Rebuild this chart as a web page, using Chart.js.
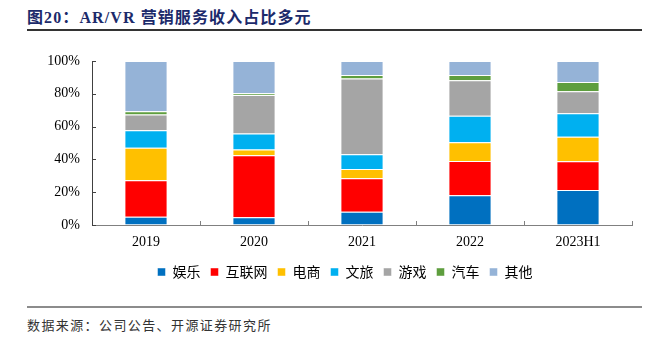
<!DOCTYPE html>
<html>
<head>
<meta charset="utf-8">
<script src="https://cdn.jsdelivr.net/npm/chart.js@4.4.1/dist/chart.umd.min.js"></script>
<style>
  html, body { margin: 0; padding: 0; background: #fff; }
  body { width: 646px; height: 337px; position: relative; overflow: hidden; }
  #title { position: absolute; left: 27px; top: 10px; font: bold 16px "Liberation Serif", "Noto Sans CJK SC"; line-height: 16px; color: #1B2A6B; letter-spacing: 1.1px; white-space: nowrap; }
  #rule1 { position: absolute; left: 27px; top: 29px; width: 615px; height: 0; border-top: 2px solid #333; }
  #wrap { position: absolute; left: 0; top: 0; width: 646px; height: 300px; }
  #rule2 { position: absolute; left: 27px; top: 306px; width: 615px; height: 0; border-top: 2px solid #8c8c8c; }
  #source { position: absolute; left: 27px; top: 318px; font: 13px "Noto Sans CJK SC"; line-height: 13px; color: #333; letter-spacing: 1.4px; white-space: nowrap; }
</style>
</head>
<body>
<div id="title">图20：AR/VR 营销服务收入占比多元</div>
<div id="rule1"></div>
<div id="wrap"><canvas id="c"></canvas></div>
<div id="rule2"></div>
<div id="source">数据来源：公司公告、开源证券研究所</div>
<script>
const categories = ['2019', '2020', '2021', '2022', '2023H1'];
const seriesNames = ['娱乐', '互联网', '电商', '文旅', '游戏', '汽车', '其他'];
const entertainment = [5.1, 4.7, 8.1, 18.1, 21.4];
const internet = [22.2, 37.8, 20.4, 21.0, 17.5];
const ecommerce = [19.8, 3.5, 5.7, 11.4, 14.9];
const tourism = [10.7, 9.8, 9.0, 16.1, 14.4];
const games = [9.6, 23.4, 46.2, 21.6, 13.3];
const auto = [1.9, 1.1, 2.0, 3.2, 5.7];
const others = [30.7, 19.7, 8.6, 8.6, 12.8];
const yTicks = [0, 20, 40, 60, 80, 100];

const seriesValues = [entertainment, internet, ecommerce, tourism, games, auto, others];
const colors = ['#0070C0', '#FF0000', '#FFC000', '#00B0F0', '#A5A5A5', '#5E9E3E', '#95B3D7'];

const datasets = seriesNames.map((name, i) => ({
  label: name,
  data: seriesValues[i],
  backgroundColor: colors[i],
  borderColor: 'rgba(255,255,255,0.45)',
  borderWidth: 1,
  barPercentage: 0.4,
  categoryPercentage: 1.0
}));

const innerTicks = {
  id: 'innerTicks',
  afterLayout(chart) {
    const lg = chart.legend;
    if (lg) {
      const shift = 345 - (lg.left + lg.right) / 2;
      lg.left += shift; lg.right += shift;
    }
  },
  afterDraw(chart) {
    const ctx = chart.ctx;
    const xs = chart.scales.x, ys = chart.scales.y;
    ctx.save();
    ctx.lineWidth = 1;
    ctx.strokeStyle = '#404040';
    ctx.beginPath();
    yTicks.forEach(v => {
      const y = Math.round(ys.getPixelForValue(v)) + 0.5;
      ctx.moveTo(xs.left, y); ctx.lineTo(xs.left + 4, y);
    });
    ctx.stroke();
    ctx.strokeStyle = '#808080';
    ctx.beginPath();
    const step = xs.getPixelForValue(1) - xs.getPixelForValue(0);
    for (let i = 1; i <= categories.length; i++) {
      const x = Math.round(xs.getPixelForValue(i) - step / 2) + 0.5;
      ctx.moveTo(x, ys.bottom); ctx.lineTo(x, ys.bottom - 4);
    }
    ctx.stroke();
    ctx.restore();
  }
};

new Chart(document.getElementById('c'), {
  type: 'bar',
  data: { labels: categories, datasets },
  plugins: [innerTicks],
  options: {
    responsive: true,
    maintainAspectRatio: false,
    animation: false,
    layout: { padding: { left: 0, right: 14, top: 61, bottom: 11 } },
    plugins: {
      tooltip: { enabled: false },
      legend: {
        position: 'bottom',
        labels: {
          boxWidth: 8, boxHeight: 8, padding: 10,
          color: '#000',
          font: { family: '"Noto Sans CJK SC"', size: 14 }
        }
      }
    },
    scales: {
      x: {
        stacked: true,
        grid: { display: true, drawOnChartArea: false, drawTicks: false },
        border: { display: true, color: '#808080', width: 1 },
        ticks: { color: '#000', padding: 9, font: { family: '"Liberation Serif"', size: 14 } },
        afterFit(s) { s.height = 30; }
      },
      y: {
        stacked: true,
        min: 0, max: 100,
        grid: { display: true, drawOnChartArea: false, drawTicks: false },
        border: { display: true, color: '#404040', width: 1 },
        ticks: {
          stepSize: 20, padding: 12, color: '#000',
          font: { family: '"Liberation Serif"', size: 14 },
          callback: v => v + '%'
        },
        afterFit(s) { s.width = 92; }
      }
    }
  }
});
</script>
</body>
</html>
